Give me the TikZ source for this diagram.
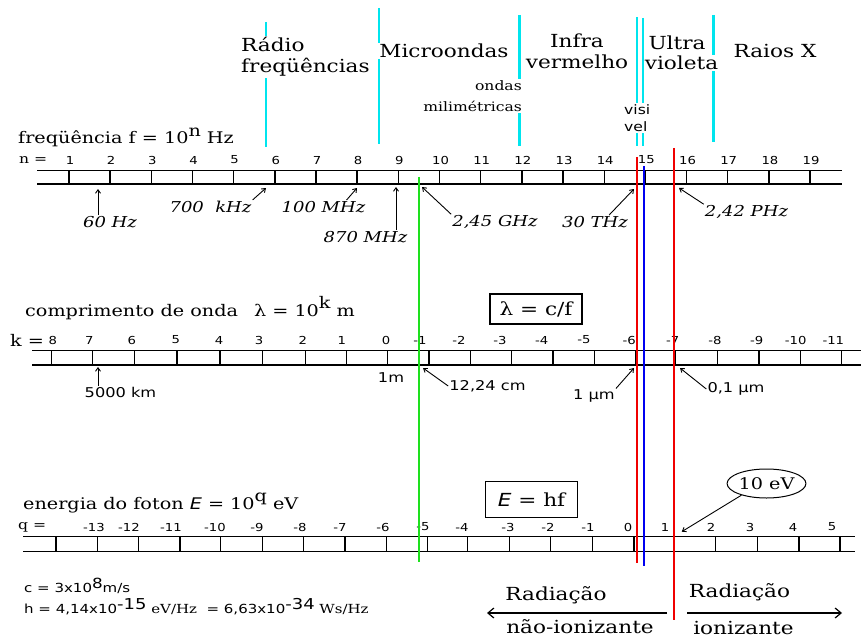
\documentclass[tikz,border=0pt]{standalone}
\usepackage{fontspec}
\newfontfamily\serifw[FakeStretch=1.2]{DejaVu Serif}
\newfontfamily\sansw[FakeStretch=1.2]{DejaVu Sans}
\usetikzlibrary{arrows.meta, shapes.geometric}
\definecolor{ccyan}{HTML}{00E5EE}
\definecolor{cgreen}{HTML}{1EE01E}
\definecolor{cred}{HTML}{F00000}
\definecolor{cblue}{HTML}{0000F0}
\tikzset{
  band/.style={font=\serifw\fontsize{18}{21}\selectfont, fill=white, inner sep=1pt, align=center},
  tiny band/.style={font=\serifw\fontsize{13}{21}\selectfont, fill=white, inner sep=1pt, align=right},
  ttl/.style={font=\serifw\fontsize{16}{17}\selectfont, anchor=west, inner sep=0pt},
  num/.style={font=\sansw\fontsize{11}{12}\selectfont, inner sep=0pt},
  fnote/.style={font=\serifw\itshape\fontsize{15}{16}\selectfont, inner sep=1pt},
  lnote/.style={font=\sansw\fontsize{13.5}{14}\selectfont, inner sep=1pt},
  const/.style={font=\sansw\fontsize{12.5}{14}\selectfont, anchor=west, inner sep=0pt},
  eqbox/.style={draw, line width=1.3pt, font=\serifw\fontsize{18}{20}\selectfont},
  arr/.style={-{Straight Barb[length=3.5pt,width=5pt]}, line width=0.9pt},
  bigarr/.style={-{Straight Barb[length=6pt,width=10pt]}, line width=1.2pt},
  scalerule/.style={line width=1.4pt},
  band line/.style={ccyan, line width=2.2pt},
  marker/.style={line width=2pt},
}

\begin{document}
\begin{tikzpicture}[x=1pt, y=-1pt]
  \useasboundingbox (0,0) rectangle (861,639);

  % band limits
  \draw[band line] (266,22) -- (266,147);
  \draw[band line] (379,8) -- (379,144);
  \draw[band line] (519.5,15) -- (519.5,146);
  \draw[band line] (637,17) -- (637,146);
  \draw[band line] (643,18) -- (643,146);
  \draw[band line] (713.5,15) -- (713.5,142);
  \node[band, align=left, anchor=west] (radio) at (240,57) {Rádio\\freqüências};
  \node[band] (micro) at (444,51) {Microondas};
  \node[band] (infra) at (577,51) {Infra\\vermelho};
  \node[band] (ultra) at (677,43) {Ultra};
  \node[band] (violeta) at (681.5,63) {violeta};
  \node[band] (raiox) at (775,51) {Raios X};
  \node[tiny band, anchor=east] (mili) at (523,96) {ondas\\milimétricas};
  \node[tiny band, align=left, anchor=west, font=\sansw\fontsize{13}{17}\selectfont] (visi) at (623,118) {visi\\vel};

  % frequency scale
  \node[ttl] (ftitle) at (18,137) {freqüência f = 10\raisebox{.45em}{n} Hz};
  \node[ttl, font=\serifw\fontsize{13}{14}\selectfont] (nlbl) at (19,160) {n =};
  \draw[scalerule] (37,170.5) -- (842,170.5) (37,184) -- (842,184);
  \foreach \n in {1,...,19} {
    \draw[scalerule] ({69+41.17*(\n-1)},170.5) -- ++(0,13.5);
    \node[num] (n\n) at ({70+41.17*(\n-1)},160) {\n};
  }
  \coordinate (a60) at (98,189);
  \coordinate (a700) at (266,188);
  \coordinate (a100) at (357,188);
  \coordinate (a870) at (396,187);
  \coordinate (a245) at (422,187);
  \coordinate (a30) at (634,189);
  \coordinate (a242) at (679,188);
  \node[fnote] (t60) at (110,222) {60 Hz};
  \node[fnote] (t700) at (210.5,207) {700\ \ kHz};
  \node[fnote] (t100) at (323.5,207) {100 MHz};
  \node[fnote] (t870) at (365.5,237) {870 MHz};
  \node[fnote] (t245) at (495,222) {2,45 GHz};
  \node[fnote] (t30) at (595,222) {30 THz};
  \node[fnote] (t242) at (746.5,212) {2,42 PHz};
  \draw[arr] (t60.north -| a60) -- (a60);
  \draw[arr] (t700.north east) -- (a700);
  \draw[arr] ([xshift=-20]t100.north east) -- (a100);
  \draw[arr] (t870.north -| a870) -- (a870);
  \draw[arr] (t245.north west) -- (a245);
  \draw[arr] ([xshift=-20]t30.north east) -- (a30);
  \draw[arr] (t242.north west) -- (a242);

  % wavelength scale
  \node[ttl] (ltitle) at (25,308) {comprimento de onda\quad λ = 10\raisebox{.45em}{k} m};
  \node[ttl, font=\serifw\fontsize{16}{17}\selectfont] (klbl) at (10,340) {k =};
  \node[eqbox, minimum width=92, minimum height=30] (lambda) at (536,309) {λ = c/f};
  \draw[scalerule] (32,350.7) -- (861,350.7) (32,365) -- (861,365);
  \foreach \x/\lx/\k [count=\i] in {51.7/52.7/8, 92.7/89.3/7, 134.7/131.7/6,
      177/175.7/5, 220/219/4, 262.3/259/3, 305.7/302.7/2, 346.7/341.7/1,
      387.5/386/0, 429/420/-1, 470.3/459/-2, 511.7/500/-3, 553/541.7/-4,
      594.3/584/-5, 636/629.3/-6, 675.7/672.7/-7, 717.3/715/-8, 759/756.7/-9,
      800.7/795.7/-10, 841.7/833.3/-11} {
    \draw[scalerule] (\x,350.7) -- (\x,365);
    \node[num] (k\i) at (\lx,340) {\k};
  }
  \coordinate (a5000) at (98,367);
  \coordinate (a1224) at (423,368);
  \coordinate (a1um) at (634,368);
  \coordinate (a01um) at (680,368);
  \node[lnote] (t5000) at (120.5,392) {5000 km};
  \node[lnote] (t1m) at (391,378) {1m};
  \node[lnote] (t1224) at (487.5,386) {12,24 cm};
  \node[lnote] (t1um) at (594,396) {1 μm};
  \node[lnote] (t01um) at (736,389) {0,1 μm};
  \draw[arr] (t5000.north -| a5000) -- (a5000);
  \draw[arr] (t1224.west) -- (a1224);
  \draw[arr] (t1um.north east) -- (a1um);
  \draw[arr] (t01um.west) -- (a01um);

  % energy scale
  \node[ttl] (etitle) at (23,503) {energia do foton {\sansw\itshape E} = 10\raisebox{.45em}{q} eV};
  \node[ttl, font=\serifw\fontsize{13}{14}\selectfont] (qlbl) at (18,527) {q =};
  \node[eqbox, minimum width=92, minimum height=36] (ehf) at (531.5,499.5) {{\sansw\itshape E} = hf};
  \draw[scalerule] (23,536.7) -- (855,536.7) (23,551.7) -- (855,551.7);
  \foreach \x in {56, 97.3, 138.7, 180, 220.7, 262.3, 303.3, 345, 386.7, 427.3,
      467.7, 509.3, 550.7, 592.3, 634, 674.3, 715.7, 757.3, 799, 840}
    \draw[scalerule] (\x,536.7) -- (\x,551.7);
  \foreach \lx/\q [count=\i] in {94/-13, 129/-12, 171/-11, 215/-10, 257/-9,
      300/-8, 340/-7, 383/-6, 423/-5, 462/-4, 508/-3, 548/-2, 588/-1, 628/0,
      665/1, 711/2, 750/3, 793/4, 832/5}
    \node[num] (q\i) at (\lx,527) {\q};
  \node[draw, ellipse, line width=1pt, minimum width=73, minimum height=29, inner sep=0pt,
    font=\serifw\fontsize{16}{17}\selectfont] (tenev) at (766.5,483.5) {10 eV};
  \coordinate (a10ev) at (681.7,531.7);
  \draw[arr] (tenev.205) -- (a10ev);

  % constants
  \node[const] (cval) at (24,586) {c = 3x10\raisebox{4pt}{\fontsize{14}{14}\selectfont 8}m/s};
  \node[const] (hval) at (24,607) {h = 4,14x10\raisebox{4pt}{\fontsize{15}{15}\selectfont -15}
    {\serifw eV/Hz}\ \ = 6,63x10\raisebox{4pt}{\fontsize{15}{15}\selectfont -34} {\serifw Ws/Hz}};

  % ionizing limit
  \node[band, fill=none] (rad1) at (556,595) {Radiação};
  \node[band, fill=none] (nonion) at (580,627) {não-ionizante};
  \node[band, fill=none] (rad2) at (739.5,592) {Radiação};
  \node[band, fill=none] (ion) at (743.5,628) {ionizante};
  \coordinate (nstart) at (667,613);
  \coordinate (nend) at (487,613);
  \coordinate (istart) at (687,613);
  \coordinate (iend) at (842,613);
  \draw[bigarr] (nstart) -- (nend);
  \draw[bigarr] (istart) -- (iend);

  % markers
  \draw[marker, cgreen] (419,177) -- (419,562);
  \draw[marker, cred] (637,157) -- (637,563);
  \draw[marker, cblue] (643.5,166) -- (643.5,566);
  \draw[marker, cred] (674,148) -- (674,620);
\end{tikzpicture}
\end{document}
